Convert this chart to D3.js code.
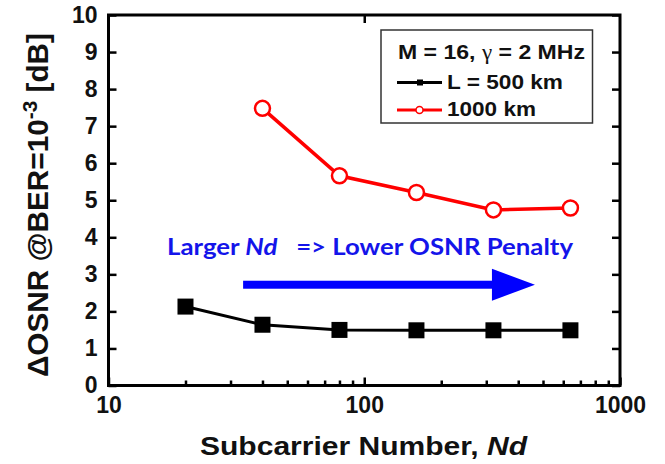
<!DOCTYPE html>
<html><head><meta charset="utf-8">
<script src="https://cdn.jsdelivr.net/npm/d3@7"></script>
<style>body{margin:0;background:#fff}</style>
</head><body><svg id="c" width="665" height="464"></svg>
<script>
// ---- data ----
const nd500 = [20, 40, 80, 160, 320, 640];
const osnr500 = [2.13, 1.64, 1.50, 1.49, 1.49, 1.49];
const nd1000 = [40, 80, 160, 320, 640];
const osnr1000 = [7.48, 5.66, 5.21, 4.74, 4.79];
const xTicks = [10, 100, 1000];
const xMinorTicks = [20,30,40,50,60,70,80,90,200,300,400,500,600,700,800,900];
const yTicks = [0,1,2,3,4,5,6,7,8,9,10];
const arrowNd = [33.6, 465];
const arrowVal = 2.72;
const legendTitleParts = ["M = 16, ", "\u03b3", " = 2 MHz"];
const legendLabels = ["L = 500 km", "1000 km"];
const legendLengths = [116, 89];

const svg = d3.select("#c");
const L = 108.5, R = 620, T = 15, B = 385.5;
const x = d3.scaleLog().domain([10, 1000]).range([L, R]);
const y = d3.scaleLinear().domain([0, 10]).range([B, T]);
const font = "'Liberation Sans', Arial, sans-serif";

svg.append("rect").attr("width", 665).attr("height", 464).attr("fill", "#fff");

function style(g, labels) {
  g.select(".domain").remove();
  g.selectAll(".tick line").attr("stroke", "#000").attr("stroke-width", 2.5);
  g.selectAll(".tick text").attr("font-family", font).attr("font-weight", "bold")
    .attr("font-size", 23).attr("fill", "#111");
  if (!labels) g.selectAll(".tick text").remove();
}

// bottom
svg.append("g").attr("transform", `translate(0,${B})`)
  .call(d3.axisBottom(x).tickValues(xTicks).tickFormat(d3.format("d")).tickSizeInner(-8).tickSizeOuter(0).tickPadding(11.5))
  .call(g => style(g, true));
svg.append("g").attr("transform", `translate(0,${B})`)
  .call(d3.axisBottom(x).tickValues(xMinorTicks).tickFormat("").tickSizeInner(-5).tickSizeOuter(0))
  .call(g => style(g, false));
// top
svg.append("g").attr("transform", `translate(0,${T})`)
  .call(d3.axisTop(x).tickValues([100]).tickFormat("").tickSizeInner(-8).tickSizeOuter(0))
  .call(g => style(g, false));
// left
svg.append("g").attr("transform", `translate(${L},0)`)
  .call(d3.axisLeft(y).tickValues(yTicks).tickFormat(d3.format("d")).tickSizeInner(-8).tickSizeOuter(0).tickPadding(11))
  .call(g => style(g, true));
// right
svg.append("g").attr("transform", `translate(${R},0)`)
  .call(d3.axisRight(y).tickValues(yTicks).tickFormat("").tickSizeInner(-8).tickSizeOuter(0))
  .call(g => style(g, false));

// frame
svg.append("rect").attr("x", L).attr("y", T).attr("width", R - L).attr("height", B - T)
  .attr("fill", "none").attr("stroke", "#000").attr("stroke-width", 3);

// series
const d500 = nd500.map((n, i) => [n, osnr500[i]]);
const d1000 = nd1000.map((n, i) => [n, osnr1000[i]]);
const line = d3.line().x(d => x(d[0])).y(d => y(d[1]));
svg.append("path").datum(d500).attr("d", line).attr("fill", "none").attr("stroke", "#000").attr("stroke-width", 3);
svg.selectAll(".sq").data(d500).join("rect")
  .attr("x", d => x(d[0]) - 8).attr("y", d => y(d[1]) - 8).attr("width", 16).attr("height", 16).attr("fill", "#000");

svg.append("path").datum(d1000).attr("d", line).attr("fill", "none").attr("stroke", "#f00").attr("stroke-width", 3.5);
svg.selectAll(".ci").data(d1000).join("circle")
  .attr("cx", d => x(d[0])).attr("cy", d => y(d[1])).attr("r", 7.5)
  .attr("fill", "#fff").attr("stroke", "#f00").attr("stroke-width", 2.5);

// arrow annotation
const ax0 = x(arrowNd[0]), ax1 = x(arrowNd[1]), ay = y(arrowVal);
svg.append("rect").attr("x", ax0).attr("y", ay - 4).attr("width", ax1 - 42 - ax0).attr("height", 8).attr("fill", "#0000ff");
svg.append("path").attr("d", `M${ax1 - 43},${ay - 16}L${ax1},${ay}L${ax1 - 43},${ay + 16}Z`).attr("fill", "#0000ff");

const ann = svg.append("text").attr("x", 167).attr("y", 255)
  .attr("font-family", "Lato, 'Open Sans', sans-serif").attr("font-weight", "bold")
  .attr("font-size", 22.5).attr("fill", "#1414ea")
  .attr("textLength", 406).attr("lengthAdjust", "spacingAndGlyphs");
ann.append("tspan").text("Larger ");
ann.append("tspan").attr("font-style", "italic").text("Nd");
ann.append("tspan").attr("xml:space", "preserve").text("   => Lower OSNR Penalty");

// legend
svg.append("rect").attr("x", 381).attr("y", 30).attr("width", 211.5).attr("height", 93)
  .attr("fill", "#fff").attr("stroke", "#333").attr("stroke-width", 1.5);
const lt = svg.append("text").attr("x", 398).attr("y", 59)
  .attr("font-family", font).attr("font-weight", "bold").attr("font-size", 20).attr("fill", "#111")
  .attr("textLength", 187).attr("lengthAdjust", "spacingAndGlyphs");
lt.append("tspan").text(legendTitleParts[0]);
lt.append("tspan").attr("font-family", "'Liberation Serif', serif").attr("font-weight", "normal").text(legendTitleParts[1]);
lt.append("tspan").text(legendTitleParts[2]);
const legColors = ["#000", "#f00"];
legendLabels.forEach((lab, i) => {
  const ly = 82.5 + i * 27.5;
  svg.append("line").attr("x1", 397).attr("x2", 442).attr("y1", ly).attr("y2", ly)
    .attr("stroke", legColors[i]).attr("stroke-width", 3);
  if (i === 0) svg.append("rect").attr("x", 417).attr("y", ly - 3).attr("width", 6).attr("height", 6).attr("fill", "#000");
  else svg.append("circle").attr("cx", 419.5).attr("cy", ly).attr("r", 3.5).attr("fill", "#fff").attr("stroke", "#f00").attr("stroke-width", 1.5);
  svg.append("text").attr("x", 447).attr("y", ly + 6).text(lab)
    .attr("font-family", font).attr("font-weight", "bold").attr("font-size", 20).attr("fill", "#111")
    .attr("textLength", legendLengths[i]).attr("lengthAdjust", "spacingAndGlyphs");
});

// axis titles
const xt = svg.append("text").attr("x", 200).attr("y", 455)
  .attr("font-family", font).attr("font-weight", "bold").attr("font-size", 25).attr("fill", "#111")
  .attr("textLength", 327).attr("lengthAdjust", "spacingAndGlyphs");
xt.append("tspan").text("Subcarrier Number, ");
xt.append("tspan").attr("font-style", "italic").text("Nd");

const yt = svg.append("text").attr("transform", `translate(48,377) rotate(-90)`)
  .attr("font-family", font).attr("font-weight", "bold").attr("font-size", 30).attr("fill", "#111")
  .attr("textLength", 344).attr("lengthAdjust", "spacingAndGlyphs");
yt.append("tspan").text("\u0394OSNR @BER=10");
yt.append("tspan").attr("dy", -11).attr("font-size", 21).text("-3");
yt.append("tspan").attr("dy", 11).text(" [dB]");
</script></body></html>
